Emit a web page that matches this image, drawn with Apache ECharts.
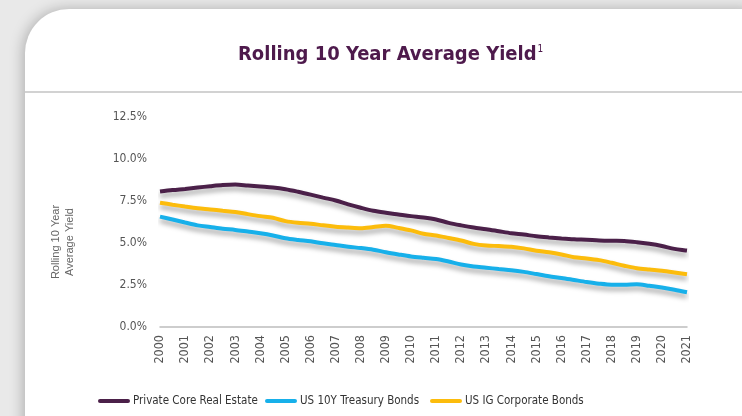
<!DOCTYPE html>
<html><head><meta charset="utf-8">
<script src="https://cdn.jsdelivr.net/npm/echarts@6/dist/echarts.min.js"></script>
<style>html,body{margin:0;padding:0;background:#e9e9e9;}#c{width:742px;height:416px;}</style>
</head><body><div id="c"></div>
<script>
var years = [2000,2000.5,2001,2001.5,2002,2002.5,2003,2003.5,2004,2004.5,2005,2005.5,2006,2006.5,2007,2007.5,2008,2008.5,2009,2009.5,2010,2010.5,2011,2011.5,2012,2012.5,2013,2013.5,2014,2014.5,2015,2015.5,2016,2016.5,2017,2017.5,2018,2018.5,2019,2019.5,2020,2020.5,2021];
var privateCore = [8.06,8.15,8.22,8.30,8.38,8.45,8.48,8.42,8.36,8.30,8.20,8.05,7.88,7.70,7.53,7.30,7.10,6.92,6.80,6.70,6.60,6.52,6.40,6.20,6.05,5.92,5.82,5.70,5.58,5.50,5.40,5.33,5.27,5.22,5.19,5.15,5.13,5.12,5.05,4.95,4.82,4.65,4.55];
var treasury = [6.57,6.40,6.22,6.05,5.95,5.85,5.78,5.68,5.58,5.45,5.28,5.18,5.10,4.98,4.88,4.78,4.70,4.60,4.45,4.32,4.20,4.12,4.05,3.90,3.72,3.60,3.53,3.45,3.38,3.28,3.15,3.02,2.92,2.80,2.68,2.58,2.52,2.52,2.55,2.45,2.35,2.22,2.07];
var corporate = [7.40,7.28,7.17,7.07,7.00,6.92,6.85,6.72,6.60,6.50,6.30,6.20,6.15,6.05,5.97,5.92,5.88,5.95,6.03,5.90,5.75,5.55,5.45,5.30,5.15,4.95,4.85,4.82,4.78,4.68,4.54,4.45,4.32,4.15,4.08,3.98,3.82,3.65,3.50,3.42,3.35,3.25,3.14];
var seriesNames = ['Private Core Real Estate','US 10Y Treasury Bonds','US IG Corporate Bonds'];
var colors = ['#4b2049','#17b0ea','#fcbc0c'];
var titleText = 'Rolling 10 Year Average Yield';
var yAxisTitle = 'Rolling 10 Year\nAverage Yield';

function pairs(v){ return years.map(function(x,i){ return [x, v[i]]; }); }
var FONT = '"Liberation Sans Narrow","DejaVu Sans Condensed","Liberation Sans",sans-serif';
var chart = echarts.init(document.getElementById('c'));
var legendIcon = 'path://M2,0 L30,0 A2,2 0 0 1 30,4 L2,4 A2,2 0 0 1 2,0 Z';
function mkSeries(name, data, color){
  return {name:name, type:'line', data:pairs(data), showSymbol:false, symbol:'none', smooth:0.3,
    lineStyle:{color:color, width:4, shadowColor:'rgba(0,0,0,0.35)', shadowBlur:5, shadowOffsetY:4},
    itemStyle:{color:color}};
}
function mkLegend(name, left){
  return {data:[name], left:left, top:390, icon:legendIcon, itemWidth:32, itemHeight:5, itemGap:3,
    textStyle:{color:'#333', fontSize:11.5, fontFamily:FONT, padding:[0,0,0,-2]}};
}
chart.setOption({
  animation:false,
  backgroundColor:'#e9e9e9',
  graphic:[
    {type:'rect', shape:{x:25, y:9, width:740, height:460, r:[44,22,0,0]}, style:{fill:'#ffffff', shadowColor:'rgba(0,0,0,0.25)', shadowBlur:14, shadowOffsetX:-2, shadowOffsetY:0}, z:-10},
    {type:'line', shape:{x1:25, y1:92, x2:742, y2:92}, style:{stroke:'#d2d2d2', lineWidth:2}, z:-9},
    {type:'text', left:238, top:44, style:{text:'{t|'+titleText+'}{s|1}', rich:{t:{fontSize:20, fontFamily:FONT, fill:'#4e1a4c', fontWeight:'bold'}, s:{fontSize:10, fontFamily:FONT, fill:'#4e1a4c', verticalAlign:'top', padding:[0,0,11,1]}}}, z:5},
    {type:'text', x:49, y:242, rotation:Math.PI/2, style:{text:yAxisTitle, fontSize:11, fontFamily:'"Liberation Sans",sans-serif', fill:'#666', align:'center', verticalAlign:'top', lineHeight:14}}
  ],
  grid:{left:160, right:55, top:117, bottom:89},
  xAxis:{type:'value', min:2000, max:2021, interval:1,
    axisLine:{show:true, lineStyle:{color:'#bdbdbd', width:1.5}}, axisTick:{show:false}, splitLine:{show:false},
    axisLabel:{rotate:90, color:'#555', fontSize:12.5, fontFamily:FONT, margin:8, formatter:function(v){return String(v);}}},
  yAxis:{type:'value', min:0, max:12.5, interval:2.5,
    axisLine:{show:false}, axisTick:{show:false}, splitLine:{show:false},
    axisLabel:{color:'#555', fontSize:12, fontFamily:FONT, margin:13, formatter:function(v){return v.toFixed(1)+'%';}}},
  legend:[mkLegend(seriesNames[0],93), mkLegend(seriesNames[1],260), mkLegend(seriesNames[2],425)],
  series:[mkSeries(seriesNames[0], privateCore, colors[0]), mkSeries(seriesNames[1], treasury, colors[1]), mkSeries(seriesNames[2], corporate, colors[2])]
});
</script></body></html>
